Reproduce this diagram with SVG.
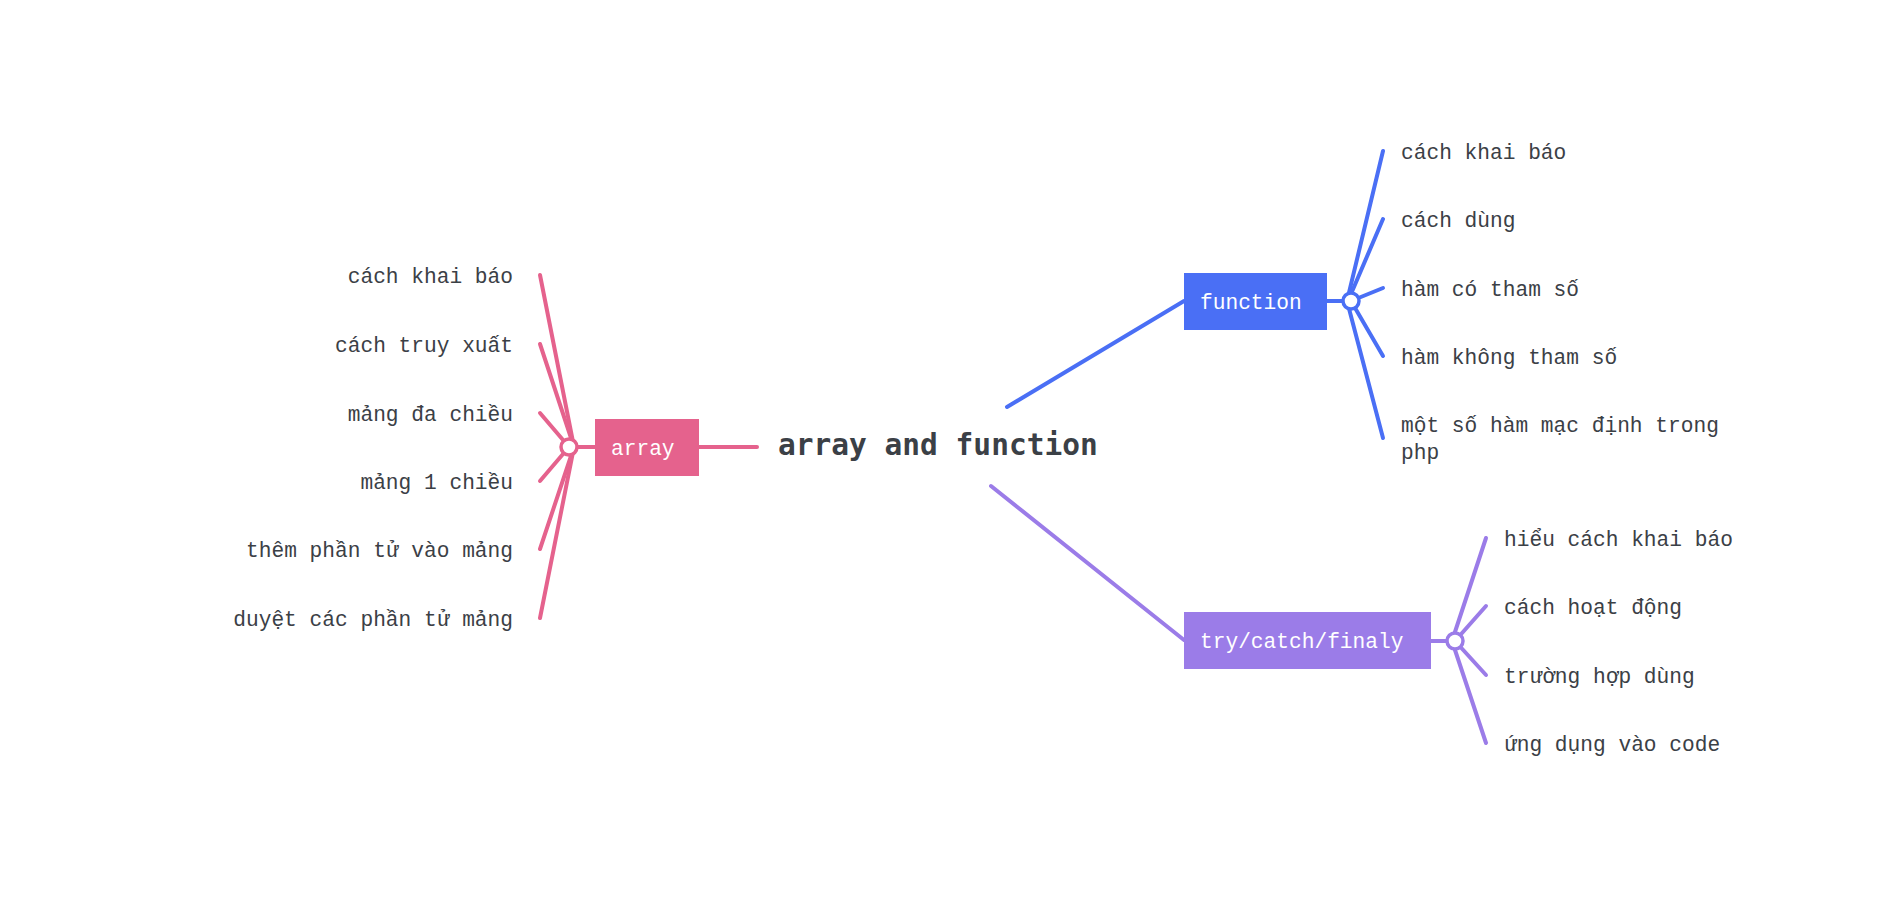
<svg xmlns="http://www.w3.org/2000/svg" width="1904" height="908" viewBox="0 0 1904 908">
<style>
.t{font-family:"Liberation Mono","DejaVu Sans Mono",monospace;font-size:21.2px;fill:#3b4046}
.w{font-family:"Liberation Mono","DejaVu Sans Mono",monospace;font-size:21.2px;fill:#ffffff}
.c{font-family:"DejaVu Sans Mono","Liberation Mono",monospace;font-size:29.5px;font-weight:bold;fill:#3b4046}
.ln{fill:none;stroke-width:4;stroke-linecap:round}
.pk{stroke:#e5628d}
.bl{stroke:#4a6ff5}
.pu{stroke:#9b7ce8}
.dot{fill:#ffffff;stroke-width:3.5}
</style>
<rect width="1904" height="908" fill="#ffffff"/>
<g id="connectors">
<line class="ln pk" x1="699" y1="447" x2="757" y2="447"/>
<line class="ln bl" x1="1007" y1="407" x2="1184" y2="301"/>
<line class="ln pu" x1="991" y1="486" x2="1184" y2="640"/>
<g class="ln pk">
<line x1="569" y1="447" x2="595" y2="447"/>
<line x1="574" y1="447" x2="540" y2="275"/>
<line x1="574" y1="447" x2="540" y2="344"/>
<line x1="569" y1="447" x2="540" y2="413"/>
<line x1="569" y1="447" x2="540" y2="481"/>
<line x1="574" y1="447" x2="540" y2="549"/>
<line x1="574" y1="447" x2="540" y2="618"/>
</g>
<g class="ln bl">
<line x1="1327" y1="301" x2="1351" y2="301"/>
<line x1="1347" y1="301" x2="1383" y2="151"/>
<line x1="1348" y1="301" x2="1383" y2="219"/>
<line x1="1351" y1="301" x2="1383" y2="288"/>
<line x1="1351" y1="301" x2="1383" y2="356"/>
<line x1="1347" y1="301" x2="1383" y2="438"/>
</g>
<g class="ln pu">
<line x1="1431" y1="641" x2="1455" y2="641"/>
<line x1="1452" y1="641" x2="1486" y2="538"/>
<line x1="1455" y1="641" x2="1486" y2="606"/>
<line x1="1455" y1="641" x2="1486" y2="675"/>
<line x1="1452" y1="641" x2="1486" y2="743"/>
</g>
<circle class="dot pk" cx="569" cy="447" r="8"/>
<circle class="dot bl" cx="1351" cy="301" r="8"/>
<circle class="dot pu" cx="1455" cy="641" r="8"/>
</g>
<g id="root">
<text class="c" x="778" y="455">array and function</text>
</g>
<g id="array">
<rect x="595" y="419" width="104" height="57" fill="#e5628d"/>
<text class="w" x="611" y="455">array</text>
</g>
<g id="function">
<rect x="1184" y="273" width="143" height="57" fill="#4a6ff5"/>
<text class="w" x="1200" y="309">function</text>
</g>
<g id="trycatch">
<rect x="1184" y="612" width="247" height="57" fill="#9b7ce8"/>
<text class="w" x="1200" y="648">try/catch/finaly</text>
</g>
<g id="array-leaves">
<text class="t" x="513" y="283" text-anchor="end">cách khai báo</text>
<text class="t" x="513" y="352" text-anchor="end">cách truy xuất</text>
<text class="t" x="513" y="421" text-anchor="end">mảng đa chiều</text>
<text class="t" x="513" y="489" text-anchor="end">mảng 1 chiều</text>
<text class="t" x="513" y="557" text-anchor="end">thêm phần tử vào mảng</text>
<text class="t" x="513" y="626" text-anchor="end">duyệt các phần tử mảng</text>
</g>
<g id="function-leaves">
<text class="t" x="1401" y="159">cách khai báo</text>
<text class="t" x="1401" y="227">cách dùng</text>
<text class="t" x="1401" y="296">hàm có tham số</text>
<text class="t" x="1401" y="364">hàm không tham số</text>
<text class="t" x="1401" y="432">một số hàm mạc định trong</text>
<text class="t" x="1401" y="459">php</text>
</g>
<g id="try-leaves">
<text class="t" x="1504" y="546">hiểu cách khai báo</text>
<text class="t" x="1504" y="614">cách hoạt động</text>
<text class="t" x="1504" y="683">trường hợp dùng</text>
<text class="t" x="1504" y="751">ứng dụng vào code</text>
</g>
</svg>
